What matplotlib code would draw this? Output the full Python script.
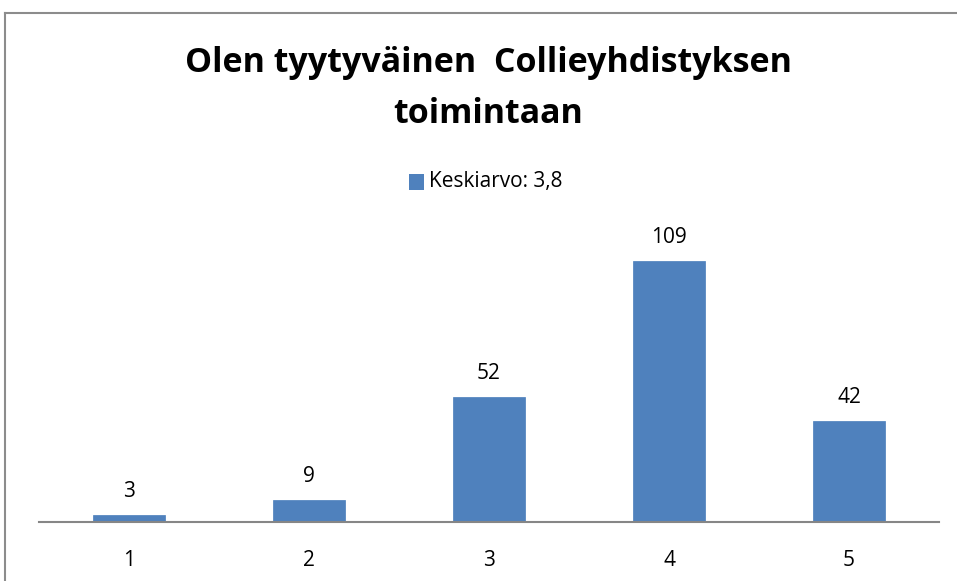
import matplotlib
matplotlib.use("Agg")
import matplotlib.pyplot as plt
from matplotlib.lines import Line2D
from matplotlib.patches import Rectangle

categories = ["1", "2", "3", "4", "5"]
values = [3, 9, 52, 109, 42]
series_name = "Keskiarvo: 3,8"
title_lines = ["Olen tyytyväinen  Collieyhdistyksen", "toimintaan"]

W, H = 957, 581
fig = plt.figure(figsize=(W / 100, H / 100), dpi=100)
fig.patch.set_facecolor("white")

def fx(px):
    return px / W

def fy(py):
    return 1 - py / H

FONT = "Open Sans"

# axes: x from 39 to 939 px, y bottom at 522 px, top at 210 px
ax = fig.add_axes([fx(39), fy(522), fx(939) - fx(39), fy(210) - fy(522)])
bar_color = "#4F81BD"
x = list(range(len(categories)))
ax.bar(x, values, width=0.4, color=bar_color, edgecolor="#4A7EBB", linewidth=0.5, zorder=2)
ax.set_xlim(-0.5, len(categories) - 0.5)
ax.set_ylim(0, (522 - 210) / (261 / 109))
for s in ["top", "right", "left"]:
    ax.spines[s].set_visible(False)
ax.spines["bottom"].set_color("#868686")
ax.spines["bottom"].set_linewidth(1.5)
ax.set_yticks([])
ax.set_xticks(x)
ax.set_xticklabels(categories, fontsize=15, family=FONT)
ax.tick_params(axis="x", length=0, pad=20, colors="black")
ax.patch.set_visible(False)

for xi, v in zip(x, values):
    ax.annotate(str(v), (xi, v), xytext=(0, 18), textcoords="offset pixels",
                ha="center", va="baseline", fontsize=15, family=FONT)

# title
fig.text(fx(488), fy(72), title_lines[0], ha="center", va="baseline",
         fontsize=24.5, fontweight="bold", family=FONT)
fig.text(fx(488), fy(123), title_lines[1], ha="center", va="baseline",
         fontsize=24.5, fontweight="bold", family=FONT)

# legend
fig.patches.append(Rectangle((fx(409), fy(190)), fx(424) - fx(409), fy(174) - fy(190),
                             transform=fig.transFigure, facecolor=bar_color, edgecolor="none"))
fig.text(fx(429), fy(182), series_name, ha="left", va="center", fontsize=15, family=FONT)

# chart border
fig.lines.append(Line2D([fx(5), 1], [fy(13), fy(13)], transform=fig.transFigure, color="#8C8C8C", lw=1.5))
fig.lines.append(Line2D([fx(5), fx(5)], [fy(13), 0], transform=fig.transFigure, color="#8C8C8C", lw=1.5))

fig.savefig("out.png", dpi=100, facecolor="white")
